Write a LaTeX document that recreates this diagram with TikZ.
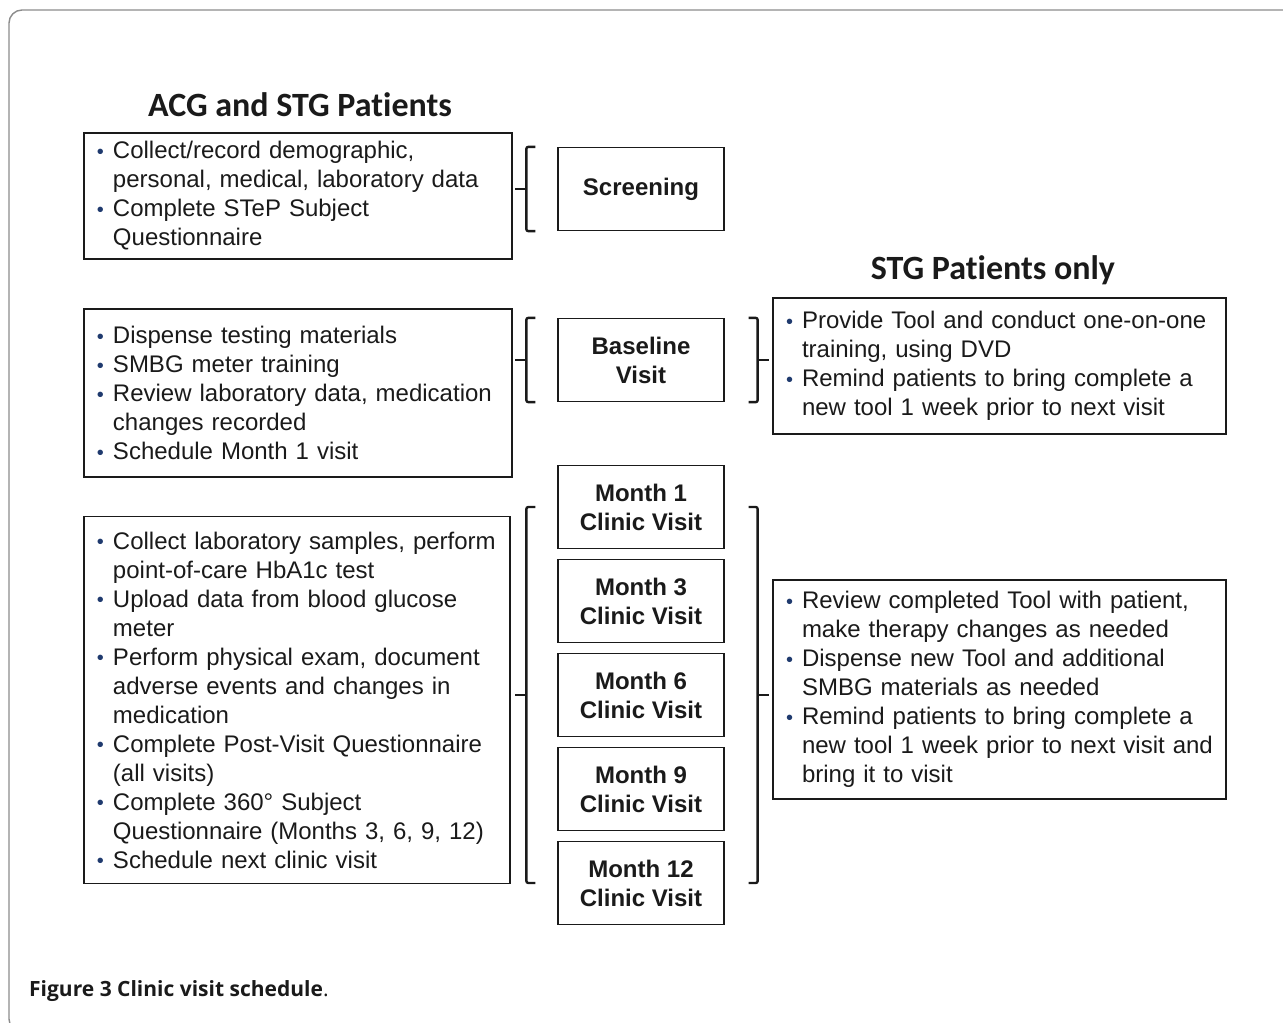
\documentclass[tikz,border=0pt]{standalone}
\usepackage{fontspec}
\setmainfont{Liberation Sans}
\newfontfamily\headfont[Ligatures=NoCommon]{Carlito}
\newfontfamily\capfont{Open Sans}
\usepackage{xcolor}
\usepackage{tikz}
\usetikzlibrary{calc}
\definecolor{ink}{HTML}{1A1A1A}
\definecolor{navy}{HTML}{1F3A6E}
\definecolor{framegray}{HTML}{8C8C8C}
\newcommand{\bul}{\makebox[16bp][l]{\color{navy}\fontsize{20bp}{20bp}\selectfont\raisebox{0.3bp}{\textbullet}}}
\newcommand{\ind}{\hspace*{16bp}}
\tikzset{
  frame/.style={draw=framegray, line width=1.4bp, rounded corners=13bp},
  txtbox/.style={draw=ink, line width=1.3bp, rectangle, inner xsep=13bp, inner ysep=0bp,
    align=left, font=\fontsize{24bp}{29bp}\selectfont, text=ink},
  visit/.style={draw=ink, line width=1.3bp, rectangle, minimum width=166bp, minimum height=83bp,
    align=center, font=\fontsize{24bp}{29bp}\selectfont\bfseries, text=ink},
  brace/.style={draw=ink, line width=2.4bp, rounded corners=2bp},
  head/.style={font=\headfont\bfseries\fontsize{34bp}{40bp}\selectfont, text=ink},
}

\begin{document}
\begin{tikzpicture}[x=1bp, y=-1bp]
  \useasboundingbox (0,0) rectangle (1283,1023);
  \draw[frame] (1320,10) -- (9,10) -- (9,1032) -- (1320,1032);

  \node[head] (acgtitle) at (300,105) {ACG and STG Patients};
  \node[head] (stgtitle) at (993,270) {STG Patients only};

  \node[txtbox, minimum width=428bp, minimum height=126bp, text width=402bp] (collect) at (298,196)
    {\bul Collect/record demographic,\\
     \ind personal, medical, laboratory data\\
     \bul Complete STeP Subject\\
     \ind Questionnaire};
  \node[txtbox, minimum width=428bp, minimum height=168bp, text width=402bp] (dispense) at (298,393)
    {\bul Dispense testing materials\\
     \bul SMBG meter training\\
     \bul Review laboratory data, medication\\
     \ind changes recorded\\
     \bul Schedule Month 1 visit\\[4bp]};
  \node[txtbox, minimum width=426bp, minimum height=367bp, text width=400bp] (clinic) at (297,700)
    {\bul Collect laboratory samples, perform\\
     \ind point-of-care HbA1c test\\
     \bul Upload data from blood glucose\\
     \ind meter\\
     \bul Perform physical exam, document\\
     \ind adverse events and changes in\\
     \ind medication\\
     \bul Complete Post-Visit Questionnaire\\
     \ind (all visits)\\
     \bul Complete 360° Subject\\
     \ind Questionnaire (Months 3, 6, 9, 12)\\
     \bul Schedule next clinic visit};
  \node[txtbox, minimum width=453bp, minimum height=136bp, text width=427bp] (tooltrain) at (999.5,366)
    {\bul Provide Tool and conduct one-on-one\\
     \ind training, using DVD\\
     \bul Remind patients to bring complete a\\
     \ind new tool 1 week prior to next visit};
  \node[txtbox, minimum width=453bp, minimum height=219bp, text width=427bp] (review) at (999.5,689.5)
    {\bul Review completed Tool with patient,\\
     \ind make therapy changes as needed\\
     \bul Dispense new Tool and additional\\
     \ind SMBG materials as needed\\
     \bul Remind patients to bring complete a\\
     \ind new tool 1 week prior to next visit and\\
     \ind bring it to visit};

  \node[visit] (screen) at (641,189) {Screening};
  \node[visit] (baseline) at (641,360) {Baseline\\Visit};
  \node[visit] (m1) at (641,507) {Month 1\\Clinic Visit};
  \node[visit] (m3) at (641,601) {Month 3\\Clinic Visit};
  \node[visit] (m6) at (641,695) {Month 6\\Clinic Visit};
  \node[visit] (m9) at (641,789) {Month 9\\Clinic Visit};
  \node[visit] (m12) at (641,883) {Month 12\\Clinic Visit};

  \draw[brace] ([xshift=-22bp]screen.north west) -| ([xshift=-31bp]screen.south west) -- ++(9bp,0);
  \draw[brace] ([xshift=-31bp]screen.west) -- ++(-11bp,0);

  \draw[brace] ([xshift=-22bp]baseline.north west) -| ([xshift=-31bp]baseline.south west) -- ++(9bp,0);
  \draw[brace] ([xshift=-31bp]baseline.west) -- ++(-11bp,0);
  \draw[brace] ([xshift=24bp]baseline.north east) -| ([xshift=33bp]baseline.south east) -- ++(-9bp,0);
  \draw[brace] ([xshift=33bp]baseline.east) -- ++(11bp,0);

  \draw[brace] ($(m1.west)+(-22bp,0)$) -| ($(m12.west)+(-31bp,0)$) -- ++(9bp,0);
  \draw[brace] ($(m6.west)+(-31bp,0)$) -- ++(-11bp,0);
  \draw[brace] ($(m1.east)+(24bp,0)$) -| ($(m12.east)+(33bp,0)$) -- ++(-9bp,0);
  \draw[brace] ($(m6.east)+(33bp,0)$) -- ++(11bp,0);

  \node[anchor=base west, inner sep=0pt, font=\capfont\fontsize{21bp}{24bp}\selectfont, text=ink] (caption) at (29,996)
    {\textbf{Figure 3 Clinic visit schedule}.};
\end{tikzpicture}
\end{document}
